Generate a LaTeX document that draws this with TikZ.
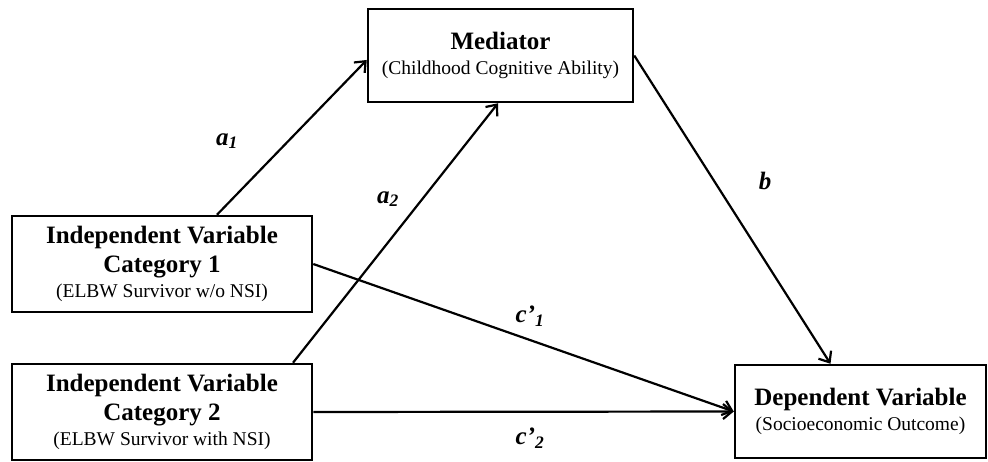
\documentclass[tikz,border=0pt]{standalone}
\usepackage{fontspec}
\setmainfont{Liberation Serif}
\usetikzlibrary{arrows.meta}

\tikzset{
    varbox/.style={draw, line width=2.5pt, align=center, inner sep=0pt,
        font=\fontsize{25}{29}\selectfont\bfseries},
    coef/.style={font=\fontsize{25}{29}\selectfont\bfseries\itshape}
}
\newcommand{\subline}[1]{{\fontsize{19.5}{22}\mdseries\selectfont #1}}

\begin{document}
\begin{tikzpicture}[x=1pt,y=-1pt]
    \useasboundingbox (0,0) rectangle (988,462);

    \node (med) at (500.5,55.5) [varbox, minimum width=265pt, minimum height=93pt]
        {Mediator\\[-4pt]\subline{(Childhood Cognitive Ability)}};

    \node (iv1) at (162,264) [varbox, minimum width=300pt, minimum height=96pt]
        {Independent Variable\\Category 1\\[-4pt]\subline{(ELBW Survivor w/o NSI)}};

    \node (iv2) at (162,412) [varbox, minimum width=300pt, minimum height=96pt]
        {Independent Variable\\Category 2\\[-4pt]\subline{(ELBW Survivor with NSI)}};

    \node (dv) at (860.5,411.5) [varbox, minimum width=251pt, minimum height=93pt]
        {Dependent Variable\\[-4pt]\subline{(Socioeconomic Outcome)}};

    \path [->, >={Straight Barb[length=9pt,width=15pt,line width=2.2pt]}, line width=2.2pt]
        ([xshift=55pt]iv1.north) edge ([yshift=-4.5pt]med.west)
        ([xshift=131pt]iv2.north) edge ([xshift=-2.5pt]med.south)
        (med.east) edge ([xshift=-30pt]dv.north)
        (iv1.east) edge (dv.west)
        (iv2.east) edge (dv.west)
    ;

    \node (la1) at (227,141) [coef] {a\textsubscript{1}};
    \node (la2) at (388,199) [coef] {a\textsubscript{2}};
    \node (lb) at (765,181) [coef] {b};
    \node (lc1) at (530,316) [coef] {c'\textsubscript{1}};
    \node (lc2) at (530,438) [coef] {c'\textsubscript{2}};
\end{tikzpicture}
\end{document}
